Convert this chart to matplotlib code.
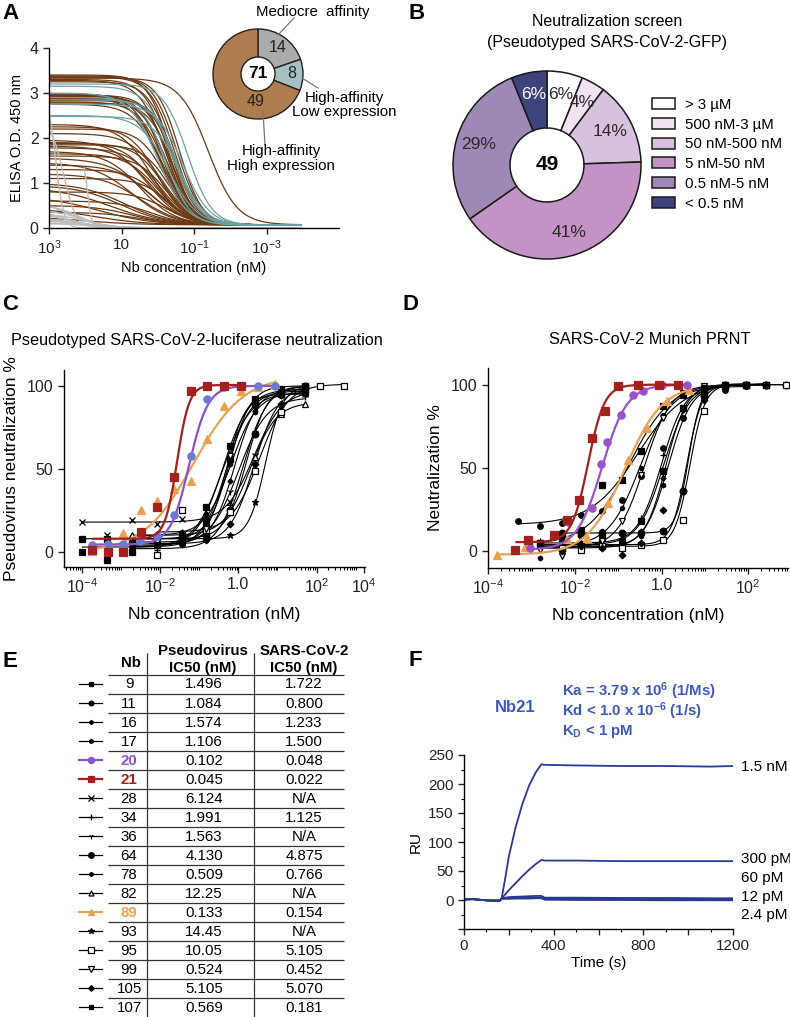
import numpy as np
import matplotlib
matplotlib.use("Agg")
import matplotlib.pyplot as plt
from matplotlib.patches import Circle
from matplotlib.ticker import LogLocator, NullFormatter, NullLocator, FixedLocator, MultipleLocator, FuncFormatter

plt.rcParams['font.family'] = ['Liberation Sans', 'DejaVu Sans']
plt.rcParams['mathtext.fontset'] = 'custom'
plt.rcParams['mathtext.rm'] = 'Liberation Sans'
plt.rcParams['mathtext.it'] = 'Liberation Sans:italic'
plt.rcParams['mathtext.bf'] = 'Liberation Sans:bold'
plt.rcParams['axes.linewidth'] = 1.0

# ------------------------------------------------------------------ data
# Panel A: ELISA fits (4PL parameters)
elisa_group_counts = [14, 8, 49]
elisa_total = 71
elisa_floor = 0.07
brown_top = [3.40, 3.38, 3.36, 3.35, 3.33, 3.30, 3.28, 3.25,
             2.98, 2.96, 2.95, 2.93, 2.92, 2.90, 2.88, 2.86, 2.83, 2.80, 2.78, 2.75,
             2.30, 2.25, 2.20, 2.10,
             1.95, 1.90, 1.88, 1.85, 1.82, 1.78,
             1.70, 1.65, 1.60, 1.55,
             1.45, 1.40, 1.30, 1.20, 1.10, 1.00,
             0.95, 0.90, 0.80, 0.70, 0.60, 0.50, 0.45, 0.35, 0.25]
brown_ec50 = [0.45, 0.30, 0.35, 0.25, 0.04, 0.50, 0.60, 0.40,
              0.90, 0.70, 0.50, 0.60, 0.45, 0.80, 0.35, 0.55, 0.30, 0.65, 0.40, 0.75,
              1.5, 1.0, 0.6, 0.8,
              2.0, 1.2, 0.7, 0.5, 1.5, 0.9,
              3.0, 1.0, 0.6, 2.0,
              5.0, 1.5, 0.8, 3.0, 0.5, 8.0,
              10, 20, 0.6, 40, 1.5, 5, 60, 3, 100]
brown_hill = [1.4, 1.3, 1.3, 1.4, 1.1, 1.3, 1.2, 1.3,
              1.2, 1.3, 1.4, 1.2, 1.3, 1.1, 1.3, 1.2, 1.4, 1.2, 1.3, 1.1,
              1.0, 1.1, 1.2, 1.0,
              0.9, 1.0, 1.1, 1.2, 0.9, 1.0,
              0.9, 1.0, 1.1, 0.8,
              0.8, 0.9, 1.0, 0.8, 1.1, 0.7,
              0.7, 0.6, 1.0, 0.6, 0.9, 0.8, 0.6, 0.8, 0.6]
teal_top = [3.20, 3.15, 2.85, 2.50, 2.48, 2.90, 3.00, 2.75]
teal_ec50 = [0.15, 0.40, 0.30, 0.50, 0.25, 0.60, 1.0, 0.20]
teal_hill = [1.3, 1.2, 1.3, 1.1, 1.2, 1.3, 1.1, 1.2]
gray_top = [3.0, 2.4, 1.5, 0.60, 0.52, 0.45, 0.40, 0.35, 0.30, 0.25, 0.20, 0.16, 0.12, 0.10]
gray_ec50 = [650, 400, 85, 250, 150, 400, 120, 300, 90, 200, 150, 100, 80, 60]
gray_hill = [4.0, 2.5, 8.0, 1.0, 1.2, 0.9, 1.1, 1.0, 1.2, 0.8, 1.0, 1.0, 1.0, 1.0]
gray_start = [1000, 1000, 110, 1000, 1000, 1000, 1000, 1000, 1000, 1000, 1000, 1000, 1000, 1000]
elisa_lowest_conc = 1.1e-4

# Panel B
screen_labels = ["> 3 \u00b5M", "500 nM-3 \u00b5M", "50 nM-500 nM", "5 nM-50 nM", "0.5 nM-5 nM", "< 0.5 nM"]
screen_counts = [3, 2, 7, 20, 14, 3]

# Panel E table
nb_ids = [9, 11, 16, 17, 20, 21, 28, 34, 36, 64, 78, 82, 89, 93, 95, 99, 105, 107]
pv_ic50_text = ["1.496", "1.084", "1.574", "1.106", "0.102", "0.045", "6.124", "1.991", "1.563",
                "4.130", "0.509", "12.25", "0.133", "14.45", "10.05", "0.524", "5.105", "0.569"]
cov_ic50_text = ["1.722", "0.800", "1.233", "1.500", "0.048", "0.022", "N/A", "1.125", "N/A",
                 "4.875", "0.766", "N/A", "0.154", "N/A", "5.105", "0.452", "5.070", "0.181"]

# Panel C: pseudovirus neutralization
c_black_nbs = [9, 11, 16, 17, 28, 34, 36, 64, 78, 82, 93, 95, 99, 105, 107]
c_grid = [1e-4, 4.4e-4, 1.9e-3, 8.5e-3, 0.036, 0.15, 0.62, 2.7, 12, 50, 120, 490]
c_resp = [
    [8, 8, 7, 9, 10, 17, 56, 92, 98, 100, None, None],
    [None, None, 2, 4, 5, 18, 57, 88, 97, 96, None, None],
    [None, None, 6, 4, 7, 12, 43, 85, 96, 98, None, None],
    [None, None, 9, 11, 12, 20, 53, 84, 94, 96, None, None],
    [18, 10, 19, 17, 20, 21, 30, 58, 86, 95, None, None],
    [None, None, 3, 1, 4, 7, 28, 73, 95, 100, None, None],
    [None, None, 4, 5, 6, 12, 36, 71, 88, 93, None, None],
    [None, None, 8, 9, 7, 10, 25, 71, 96, 100, None, None],
    [None, None, 3, 4, 7, 23, 64, 90, 97, 98, None, None],
    [None, None, 10, 11, 10, 13, 24, 57, 83, 89, None, None],
    [None, None, 7, 9, 8, 8, 10, 30, 85, 99, None, None],
    [None, None, None, -2, 25, 13, 24, 49, 84, 97, 100, 100],
    [None, None, 5, 6, 7, 14, 58, 90, 95, 95, None, None],
    [None, None, 5, 4, 6, 7, 17, 53, 89, 98, None, None],
    [0, -5, 0, 4, 9, 27, 64, 90, 95, 96, None, None],
]
c_bottom = [8, 3, 5, 10, 18, 2, 4, 8, 3, 10, 8, 12, 6, 5, 3]
c_top = [100, 97, 98, 96, 97, 100, 93, 100, 98, 90, 100, 101, 95, 99, 96]
c_ec50 = [0.6, 0.5, 0.8, 0.65, 2.5, 1.3, 1.0, 1.6, 0.4, 2.0, 5.0, 3.5, 0.5, 2.5, 0.4]
c_hill = [1.6, 1.4, 1.5, 1.3, 1.2, 1.4, 1.2, 1.6, 1.3, 1.3, 2.0, 1.2, 1.8, 1.4, 1.2]

pv_conc_20 = [1.8e-4, 4.5e-4, 1.15e-3, 3.0e-3, 8.5e-3, 0.023, 0.06, 0.16, 0.44, 1.2, 3.2, 8.7]
pv_resp_20 = [4, 5, 5, 6.5, 9.5, 22.5, 58, 92, 99, 100, 100, 100]
pv_fit_20 = [4.5, 100, 0.055, 1.8]
pv_conc_21 = [1.8e-4, 4.5e-4, 1.15e-3, 3.2e-3, 8.5e-3, 0.023, 0.06, 0.16, 0.44, 1.2]
pv_resp_21 = [1, 0, 0, 12, 27, 45, 97, 100, 100, 100]
pv_fit_21 = [8, 100.5, 0.027, 2.8]
pv_conc_89 = [1.8e-4, 1.15e-3, 3.2e-3, 8.5e-3, 0.023, 0.06, 0.16, 0.44, 1.2, 3.2, 8.7]
pv_resp_89 = [0.5, 11.4, 25, 31, 38, 43, 68, 88, 97, 99, 101]
pv_fit_89 = [0, 106, 0.07, 0.68]

# Panel D: SARS-CoV-2 PRNT
d_black_nbs = [9, 11, 16, 17, 34, 64, 78, 95, 99, 105, 107]
d_grid = [4.9e-4, 1.55e-3, 4.9e-3, 0.014, 0.042, 0.12, 0.33, 1.1, 3.2, 9.5, 29, 91, 260, 760]
d_resp = [
    [None, 5, 2, 3, 8, 6, 18, 48, 86, 95, 99, 100, 100, None],
    [18, 15, 17, 22, 24, 31, 45, 62, 80, 92, 97, 99, 100, None],
    [None, 3, 1, 5, 2, 4, 12, 44, 85, 99, 100, 100, 100, None],
    [None, -4, 0, 2, 3, 5, 9, 40, 80, 96, 99, 100, 100, None],
    [None, 6, 4, 5, 6, 8, 20, 58, 86, 97, 100, 100, 100, None],
    [None, None, 11, 10, 11, 11, 11, 12, 36, 93, 100, 100, 100, 100],
    [None, 2, 4, 5, 12, 26, 50, 82, 93, 97, 99, 100, None, None],
    [None, None, 2, 1, 3, 2, 4, 7, 19, 84, 99, 100, 100, 100],
    [None, 1, -3, 3, 6, 18, 46, 80, 95, 99, 100, 100, None, None],
    [None, None, 0, 3, 2, -2, 5, 25, 36, 91, 99, 100, 100, None],
    [None, 5, 8, 13, 40, 43, 60, 87, 94, 98, 100, 100, None, None],
]
d_bottom = [4, 16, 3, 2, 5, 11, 3, 3, 2, 4, 4]
d_top = [100, 101, 100, 100, 100, 100, 99, 100, 100, 100, 101]
d_ec50 = [1.12, 0.28, 1.26, 1.41, 1.0, 4.2, 0.32, 4.5, 0.4, 3.8, 0.18]
d_hill = [1.5, 0.8, 1.8, 1.6, 1.6, 3.0, 1.2, 2.5, 1.4, 2.5, 0.9]

cov_conc_20 = [9.1e-4, 7e-3, 0.0245, 0.04, 0.056, 0.115, 0.22, 0.37, 1.0, 3.8]
cov_resp_20 = [2, 17.6, 26, 52.6, 65.6, 82, 93.6, 96, 99.6, 100]
cov_fit_20 = [1, 100, 0.042, 1.5]
cov_conc_21 = [4.2e-4, 8.1e-4, 3.2e-3, 6.5e-3, 0.0126, 0.0245, 0.05, 0.1, 0.29, 0.85, 2.45]
cov_resp_21 = [1, 7, 10, 19, 31, 68, 84, 99, 99.6, 100, 99.6]
cov_fit_21 = [5.5, 100, 0.02, 2.3]
cov_conc_89 = [1.6e-4, 7e-4, 6.5e-3, 0.019, 0.059, 0.166, 0.46, 1.3, 4.4]
cov_resp_89 = [-2, 2.6, 7.6, 8, 29, 55, 74, 90, 97]
cov_fit_89 = [-2, 100, 0.14, 1.0]

# Panel F: SPR sensorgram of Nb21
spr_time = [0, 40, 80, 120, 160, 168, 185, 200, 230, 260, 290, 320, 345, 360, 500, 700, 900, 1100, 1200]
spr_1p5nM = [1, 1.5, 0, -1, -1, 3, 40, 75, 125, 165, 197, 220, 234, 233, 232, 231, 231, 230, 231]
spr_300pM = [1, 1.5, 0, -1, -1, 3, 10, 17, 29, 41, 52, 62, 69, 68, 68, 67, 67, 67, 67]
spr_60pM = [1, 1.5, 0, -1, -1, 3, 4, 5, 5.5, 6, 6.5, 7, 7, 4, 4, 3.5, 3.5, 3, 3]
spr_12pM = [1, 1.5, 0, -1, -1, 3, 3, 3.5, 3.5, 4, 4, 4, 4.5, 2, 2, 2, 1.5, 1.5, 1.5]
spr_2p4pM = [1, 1.5, 0, -1, -1, 2, 2, 2, 2.5, 2.5, 2.5, 3, 3, 0.5, 0, 0, -0.5, -0.5, -0.5]
spr_labels = ["1.5 nM", "300 pM", "60 pM", "12 pM", "2.4 pM"]

# ------------------------------------------------------------------ styles
W, H = 790, 1017
fig = plt.figure(figsize=(W / 100, H / 100), dpi=100)
fig.patch.set_facecolor('white')

def box(l, t, r, b):
    return [l / W, 1 - b / H, (r - l) / W, (b - t) / H]

def fpl(x, b, t, ec, h):
    return b + (t - b) / (1 + (ec / x) ** h)

RED = '#A3201F'
PURPLE_C = '#6E78D4'
PURPLE_LINE = '#8A52C8'
PURPLE_D = '#9A52C9'
ORANGE = '#E9A152'
BROWN = '#6B3A12'
TEAL = '#6FA2A4'
GRAY = '#BDBDBD'
BLUE_TXT = '#3D58BE'
BLUE_LINE = '#29398F'

marker_style = {
    9: ('s', 4.0, True), 11: ('o', 4.0, True), 16: ('D', 2.6, True), 17: ('h', 3.4, True),
    20: ('o', 5.2, True), 21: ('s', 5.2, True), 28: ('x', 4.5, True), 34: ('+', 5.0, True),
    36: ('1', 4.5, True), 64: ('o', 4.8, True), 78: ('o', 3.0, True), 82: ('^', 4.2, False),
    89: ('^', 5.4, True), 93: ('*', 5.0, True), 95: ('s', 4.3, False), 99: ('v', 4.5, False),
    105: ('D', 3.4, True), 107: ('s', 4.0, True),
}
nb_color = {20: PURPLE_LINE, 21: RED, 89: ORANGE}

def draw_series(ax, conc, resp, fit, line_color, mark_color, nb, lw, z):
    conc = np.asarray(conc, float)
    resp = np.asarray(resp, float)
    ok = ~np.isnan(resp)
    xs = np.logspace(np.log10(conc[ok].min()), np.log10(conc[ok].max()), 300)
    ax.plot(xs, fpl(xs, *fit), color=line_color, lw=lw, zorder=z, solid_capstyle='butt')
    m, ms, filled = marker_style[nb]
    ax.plot(conc[ok], resp[ok], ls='none', marker=m, ms=ms,
            mfc=mark_color if filled else 'white', mec=mark_color, mew=0.9,
            zorder=z + 0.5, clip_on=False)

def style_axes(ax):
    for s in ['top', 'right']:
        ax.spines[s].set_visible(False)
    ax.tick_params(direction='out', length=4, width=1.0, colors='#222222')
    ax.tick_params(which='minor', direction='out', length=2.2, width=0.8)

# ------------------------------------------------------------------ Panel A
axA = fig.add_axes(box(49, 48, 339, 228))
for top, ec, h in zip(brown_top, brown_ec50, brown_hill):
    xs = np.logspace(3, np.log10(elisa_lowest_conc), 300)
    axA.plot(xs, fpl(xs, elisa_floor, top, ec, h), color=BROWN, lw=0.9)
for top, ec, h in zip(teal_top, teal_ec50, teal_hill):
    xs = np.logspace(3, np.log10(elisa_lowest_conc), 300)
    axA.plot(xs, fpl(xs, 0.06, top, ec, h), color=TEAL, lw=0.9)
for top, ec, h, st in zip(gray_top, gray_ec50, gray_hill, gray_start):
    xs = np.logspace(np.log10(st), np.log10(elisa_lowest_conc), 300)
    axA.plot(xs, fpl(xs, 0.0, top, ec, h), color=GRAY, lw=1.0)
axA.set_xscale('log')
axA.set_xlim(1e3, 1e-5)
axA.set_ylim(0, 4)
axA.xaxis.set_major_locator(FixedLocator([1e3, 1e1, 1e-1, 1e-3]))
axA.xaxis.set_minor_locator(NullLocator())
axA.set_xticklabels(['$10^{3}$', '10', '$10^{-1}$', '$10^{-3}$'], fontsize=11)
axA.set_yticks([0, 1, 2, 3, 4])
axA.set_yticklabels(['0', '1', '2', '3', '4'], fontsize=11.5)
style_axes(axA)
axA.set_xlabel('Nb concentration (nM)', fontsize=10.5, labelpad=3)
axA.set_ylabel('ELISA O.D. 450 nm', fontsize=10.5, labelpad=4)

# inset donut of panel A
axAd = fig.add_axes(box(200, 0, 390, 180))
wA, _ = axAd.pie(elisa_group_counts, colors=['#ABABAB', '#A5C1C1', '#AE7C4D'], startangle=90,
                 counterclock=False, radius=1.0,
                 wedgeprops=dict(width=1 - 17 / 45, edgecolor='#222222', linewidth=1.0))
axAd.add_patch(Circle((0, 0), 17 / 45, facecolor='white', edgecolor='none', zorder=0.5))
axAd.set_aspect('auto')
axAd.set_xlim(-58 / 45, 132 / 45)
axAd.set_ylim(-106 / 45, 74 / 45)
axAd.axis('off')

# ------------------------------------------------------------------ Panel B
axB = fig.add_axes(box(440, 60, 660, 270))
wB, _ = axB.pie(screen_counts, colors=['#FFFFFF', '#F0E2F0', '#D8C1DE', '#C393C6', '#9D88B6', '#3F437D'],
                startangle=90, counterclock=False, radius=1.0,
                wedgeprops=dict(width=1 - 37 / 94, edgecolor='#1a1a1a', linewidth=1.1))
axB.set_aspect('auto')
axB.set_xlim(-107 / 94, 113 / 94)
axB.set_ylim(-105 / 94, 105 / 94)
axB.axis('off')
total_b = sum(screen_counts)
for w, c in zip(wB, screen_counts):
    ang = np.deg2rad((w.theta1 + w.theta2) / 2)
    r = 0.76
    col = 'white' if w.get_facecolor()[0] < 0.4 else '#2a2a2a'
    axB.text(r * np.cos(ang), r * np.sin(ang), f"{round(100 * c / total_b)}%", ha='center', va='center',
             fontsize=12.5, color=col)
axB.text(0, 0, str(total_b), ha='center', va='center', fontsize=15, fontweight='bold')
fig.legend(wB, screen_labels, loc='upper left', bbox_to_anchor=(652 / W, 1 - 98 / H), frameon=False,
           fontsize=10.8, handlelength=1.5, handleheight=0.75, labelspacing=0.38, handletextpad=0.7,
           borderaxespad=0, borderpad=0)

# ------------------------------------------------------------------ Panel C
axC = fig.add_axes(box(64, 370, 365, 567))
for i, nb in enumerate(c_black_nbs):
    draw_series(axC, c_grid, c_resp[i], [c_bottom[i], c_top[i], c_ec50[i], c_hill[i]],
                'black', 'black', nb, 0.8, 2)
draw_series(axC, pv_conc_89, pv_resp_89, pv_fit_89, ORANGE, ORANGE, 89, 1.6, 4)
draw_series(axC, pv_conc_20, pv_resp_20, pv_fit_20, PURPLE_LINE, PURPLE_C, 20, 1.6, 5)
draw_series(axC, pv_conc_21, pv_resp_21, pv_fit_21, RED, RED, 21, 1.6, 6)
axC.set_xscale('log')
axC.set_xlim(10 ** -4.46, 10 ** 3.24)
axC.set_ylim(-9, 109.5)
axC.xaxis.set_major_locator(FixedLocator([1e-4, 1e-2, 1, 1e2, 10 ** 3.22]))
axC.set_xticklabels(['$10^{-4}$', '$10^{-2}$', '1.0', '$10^{2}$', '$10^{4}$'], fontsize=11.5)
axC.xaxis.set_minor_locator(LogLocator(base=10, subs=np.arange(1, 10), numticks=40))
axC.xaxis.set_minor_formatter(NullFormatter())
axC.set_yticks([0, 50, 100])
axC.set_yticklabels(['0', '50', '100'], fontsize=11.5)
style_axes(axC)
axC.set_xlabel('Nb concentration (nM)', fontsize=12.5, labelpad=8)
axC.set_ylabel('Pseudovirus neutralization %', fontsize=12.5, labelpad=6)

# ------------------------------------------------------------------ Panel D
axDd = fig.add_axes(box(488, 368, 788, 568))
for i, nb in enumerate(d_black_nbs):
    draw_series(axDd, d_grid, d_resp[i], [d_bottom[i], d_top[i], d_ec50[i], d_hill[i]],
                'black', 'black', nb, 0.8, 2)
draw_series(axDd, cov_conc_89, cov_resp_89, cov_fit_89, ORANGE, ORANGE, 89, 1.6, 4)
draw_series(axDd, cov_conc_20, cov_resp_20, cov_fit_20, PURPLE_D, PURPLE_D, 20, 1.6, 5)
draw_series(axDd, cov_conc_21, cov_resp_21, cov_fit_21, RED, RED, 21, 1.6, 6)
axDd.set_xscale('log')
axDd.set_xlim(10 ** -4.01, 10 ** 2.92)
axDd.set_ylim(-10, 110)
axDd.xaxis.set_major_locator(FixedLocator([1e-4, 1e-2, 1, 1e2]))
axDd.set_xticklabels(['$10^{-4}$', '$10^{-2}$', '1.0', '$10^{2}$'], fontsize=11.5)
axDd.xaxis.set_minor_locator(LogLocator(base=10, subs=np.arange(1, 10), numticks=40))
axDd.xaxis.set_minor_formatter(NullFormatter())
axDd.set_yticks([0, 50, 100])
axDd.set_yticklabels(['0', '50', '100'], fontsize=11.5)
style_axes(axDd)
axDd.set_xlabel('Nb concentration (nM)', fontsize=12.5, labelpad=8)
axDd.set_ylabel('Neutralization %', fontsize=12.5, labelpad=6)

# ------------------------------------------------------------------ Panel F
axF = fig.add_axes(box(464, 755, 733, 929))
for ys in [spr_1p5nM, spr_300pM, spr_60pM, spr_12pM, spr_2p4pM]:
    axF.plot(spr_time, ys, color=BLUE_LINE, lw=1.3)
axF.set_xlim(0, 1200)
axF.set_ylim(-50, 250)
axF.xaxis.set_major_locator(MultipleLocator(200))
axF.xaxis.set_minor_locator(MultipleLocator(100))
axF.xaxis.set_major_formatter(FuncFormatter(lambda v, p: f"{int(round(v))}" if int(round(v)) % 400 == 0 else ""))
axF.yaxis.set_major_locator(MultipleLocator(50))
axF.yaxis.set_minor_locator(MultipleLocator(25))
axF.yaxis.set_major_formatter(FuncFormatter(lambda v, p: f"{int(round(v))}" if v > -1 else ""))
axF.tick_params(labelsize=11)
style_axes(axF)
axF.set_xlabel('Time (s)', fontsize=11, labelpad=2)
axF.set_ylabel('RU', fontsize=11, labelpad=4)

# ------------------------------------------------------------------ overlay (text, table)
ov = fig.add_axes([0, 0, 1, 1])
ov.set_xlim(0, W)
ov.set_ylim(H, 0)
ov.axis('off')
ov.patch.set_alpha(0)

letter_font = dict(fontsize=16, fontweight='bold', family=['Liberation Sans Narrow', 'Liberation Sans'],
                   va='top', ha='left')
ov.text(2, 3, 'A', **letter_font)
ov.text(408, 3, 'B', **letter_font)
ov.text(2, 294, 'C', **letter_font)
ov.text(403, 294, 'D', **letter_font)
ov.text(2, 651, 'E', **letter_font)
ov.text(408, 650, 'F', **letter_font)

# panel A donut annotations
ov.text(258, 74, str(elisa_total), ha='center', va='center', fontsize=12.5, fontweight='bold')
ov.text(278, 47, str(elisa_group_counts[0]), ha='center', va='center', fontsize=11.5, color='#222222')
ov.text(292, 74, str(elisa_group_counts[1]), ha='center', va='center', fontsize=11.5, color='#222222')
ov.text(256, 102, str(elisa_group_counts[2]), ha='center', va='center', fontsize=11.5, color='#222222')
ov.plot([278, 294], [35, 18], color='#777777', lw=0.9)
ov.plot([302, 318], [78, 88], color='#777777', lw=0.9)
ov.plot([263, 265], [112, 145], color='#777777', lw=0.9)
ov.text(313, 12, 'Mediocre  affinity', ha='center', va='center', fontsize=10.8)
ov.text(344, 98, 'High-affinity', ha='center', va='center', fontsize=10.8)
ov.text(344, 112, 'Low expression', ha='center', va='center', fontsize=10.8)
ov.text(281, 151, 'High-affinity', ha='center', va='center', fontsize=10.8)
ov.text(281, 166, 'High expression', ha='center', va='center', fontsize=10.8)

# panel B title
ov.text(607, 22, 'Neutralization screen', ha='center', va='center', fontsize=11.5)
ov.text(607, 43, '(Pseudotyped SARS-CoV-2-GFP)', ha='center', va='center', fontsize=11.5)

# panel C / D titles
ov.text(197, 340, 'Pseudotyped SARS-CoV-2-luciferase neutralization', ha='center', va='center', fontsize=11.7)
ov.text(650, 340, 'SARS-CoV-2 Munich PRNT', ha='center', va='center', fontsize=11.7)

# panel E table
row_y0, row_dy = 684.0, 19.02
ov.vlines([147, 254], 653, 1017, color='#333333', lw=0.9)
ov.hlines([675] + [row_y0 + row_dy * (i + 0.5) for i in range(len(nb_ids) - 1)], 108, 344,
          color='#333333', lw=0.9)
ov.text(131, 663, 'Nb', ha='center', va='center', fontsize=10.8, fontweight='bold')
ov.text(203, 651, 'Pseudovirus', ha='center', va='center', fontsize=10.8, fontweight='bold')
ov.text(203, 668, 'IC50 (nM)', ha='center', va='center', fontsize=10.8, fontweight='bold')
ov.text(304, 651, 'SARS-CoV-2', ha='center', va='center', fontsize=10.8, fontweight='bold')
ov.text(304, 668, 'IC50 (nM)', ha='center', va='center', fontsize=10.8, fontweight='bold')
for i, (nb, pv, cv) in enumerate(zip(nb_ids, pv_ic50_text, cov_ic50_text)):
    y = row_y0 + row_dy * i
    col = nb_color.get(nb, 'black')
    m, ms, filled = marker_style[nb]
    lw = 1.6 if nb in nb_color else 0.9
    ov.plot([79, 102], [y, y], color=col, lw=lw)
    ov.plot([90.5], [y], marker=m, ms=ms * 0.85, mfc=col if filled else 'white', mec=col, mew=0.9, ls='none')
    ov.text(129, y + 0.5, str(nb), ha='center', va='center', fontsize=10.8, color=col,
            fontweight='bold' if nb in nb_color else 'normal')
    ov.text(204, y + 0.5, pv, ha='center', va='center', fontsize=10.8)
    ov.text(304, y + 0.5, cv, ha='center', va='center', fontsize=10.8)

# panel F annotations
ov.text(515, 707, 'Nb21', ha='center', va='center', fontsize=12, fontweight='bold', color=BLUE_TXT)
ov.text(562, 691, r'Ka = 3.79 x 10$^{\mathbf{6}}$ (1/Ms)', ha='left', va='center', fontsize=10.8,
        fontweight='bold', color=BLUE_TXT)
ov.text(562, 711, r'Kd < 1.0 x 10$^{\mathbf{-6}}$ (1/s)', ha='left', va='center', fontsize=10.8,
        fontweight='bold', color=BLUE_TXT)
ov.text(562, 731, r'K$_{\mathbf{D}}$ < 1 pM', ha='left', va='center', fontsize=10.8,
        fontweight='bold', color=BLUE_TXT)
for lab, yy in zip(spr_labels, [767, 859, 878, 897, 915]):
    ov.text(741, yy, lab, ha='left', va='center', fontsize=11)

fig.savefig('out.png', dpi=100, facecolor='white')
